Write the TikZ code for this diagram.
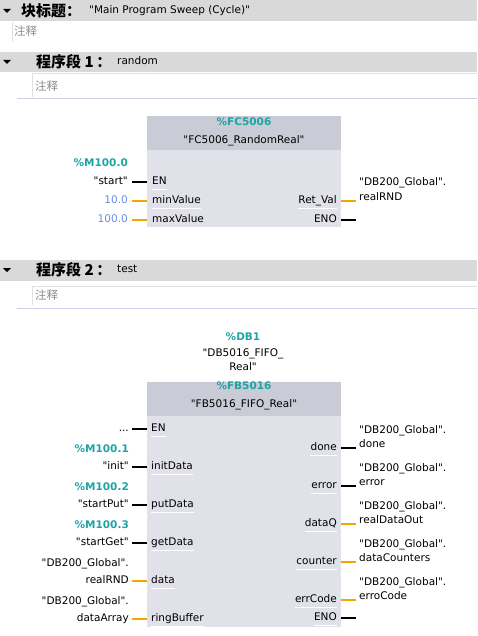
\documentclass[tikz,border=0pt]{standalone}
\usepackage{fontspec}
\setmainfont{DejaVu Sans}
\newfontfamily\cjk{Noto Sans CJK SC}
\usetikzlibrary{positioning}

\definecolor{barGray}{HTML}{D9D9D9}
\definecolor{boxHead}{HTML}{C9CBD6}
\definecolor{boxBody}{HTML}{E1E2E9}
\definecolor{tagTeal}{HTML}{1FA3A3}
\definecolor{constBlue}{HTML}{6A8BE3}
\definecolor{wireOrange}{HTML}{F5A400}
\definecolor{sepPurple}{HTML}{D2CEEA}
\definecolor{cmtGray}{HTML}{8C8C8C}

\newcommand{\qt}{\textquotedbl}

\tikzset{
  lbl/.style={font=\fontsize{10.5}{13}\selectfont, inner sep=0pt, text height=8pt, text depth=2.5pt},
  tag/.style={lbl, font=\fontsize{10.5}{13}\selectfont\bfseries, text=tagTeal},
  const/.style={lbl, text=constBlue},
  title/.style={inner sep=0pt, font=\fontsize{15}{17}\selectfont\bfseries},
  cmt/.style={inner sep=0pt, font=\fontsize{11.5}{13}\selectfont\cjk, text=cmtGray},
  cmtLine/.style={draw=black!12, line width=0.8pt},
  sepLine/.style={draw=sepPurple, line width=1pt},
  uline/.style={append after command={([yshift=-1.5pt]\tikzlastnode.south west) edge[draw=white, line width=0.8pt] ([yshift=-1.5pt]\tikzlastnode.south east)}},
  pinL/.style={lbl, anchor=west, uline},
  pinR/.style={lbl, anchor=east, uline},
  fbBody/.style={fill=boxBody, inner sep=0pt, anchor=north west},
  fbHead/.style={fill=boxHead, inner sep=0pt, anchor=north west},
  wireK/.style={black, line width=1.5pt},
  wireO/.style={wireOrange, line width=1.5pt}
}

\begin{document}
\begin{tikzpicture}[x=1pt,y=-1pt]
    \useasboundingbox (0,0) rectangle (477,636);
    % Block title
    \fill[barGray] (0,0) rectangle (477,21);
    \fill (3,9) -- (11,9) -- (7,13) -- cycle;
    \node[title, anchor=west] (blkTitle) at (21,11) {\cjk 块标题：};
    \node[lbl, anchor=west] (blkName) at (89,11) {\qt Main Program Sweep (Cycle)\qt};
    \draw[cmtLine] (12,22) -- (12,42);
    \node[cmt, anchor=west] (blkCmt) at (14,31) {注释};

    % Network 1
    \fill[barGray] (0,52) rectangle (477,72);
    \fill (3,60) -- (11,60) -- (7,64) -- cycle;
    \node[title, anchor=west] (nw1Title) at (36,62) {\cjk 程序段 1\,：};
    \node[lbl, anchor=west] (nw1Name) at (117,62) {random};
    \draw[cmtLine] (32,97) -- (32,73) -- (477,73);
    \node[cmt, anchor=west] (nw1Cmt) at (35,86) {注释};
    \draw[sepLine] (17,99) -- (477,99);

    % FC5006 box
    \node[fbBody, minimum width=194, minimum height=111] (fc) at (147,116) {};
    \node[fbHead, minimum width=194, minimum height=34] (fcHead) at (fc.north west) {};
    \node[tag] (fcNum) at (244,123) {\%FC5006};
    \node[lbl] (fcName) at (244,141) {\qt FC5006\_RandomReal\qt};
    \node[pinL] (fcEN) at (152,182) {EN};
    \node[pinL] (fcMin) at (152,201) {minValue};
    \node[pinL] (fcMax) at (152,220) {maxValue};
    \node[pinR] (fcRet) at (337,201) {Ret\_Val};
    \node[pinR] (fcENO) at (337,220) {ENO};
    % inputs
    \node[tag, anchor=east] (inStartTag) at (128,164) {\%M100.0};
    \node[lbl, anchor=east] (inStart) at (128,182) {\qt start\qt};
    \node[const, anchor=east] (inMin) at (128,201) {10.0};
    \node[const, anchor=east] (inMax) at (128,220) {100.0};
    \coordinate (fcInEN) at (132,182);
    \coordinate (fcInMin) at (132,201);
    \coordinate (fcInMax) at (132,220);
    \draw[wireK] (fcInEN) -- (fcInEN -| fc.west);
    \draw[wireO] (fcInMin) -- (fcInMin -| fc.west);
    \draw[wireO] (fcInMax) -- (fcInMax -| fc.west);
    % outputs
    \node[lbl, anchor=west] (outRnd1) at (359,183) {\qt DB200\_Global\qt.};
    \node[lbl, anchor=west] (outRnd2) at (359,198) {realRND};
    \coordinate (fcOutRet) at (356,201);
    \coordinate (fcOutENO) at (356,220);
    \draw[wireO] (fcOutRet -| fc.east) -- (fcOutRet);
    \draw[wireK] (fcOutENO -| fc.east) -- (fcOutENO);

    % Network 2
    \fill[barGray] (0,260) rectangle (477,281);
    \fill (3,268) -- (11,268) -- (7,272) -- cycle;
    \node[title, anchor=west] (nw2Title) at (36,270) {\cjk 程序段 2\,：};
    \node[lbl, anchor=west] (nw2Name) at (117,270) {test};
    \draw[cmtLine] (32,305) -- (32,286) -- (477,286);
    \node[cmt, anchor=west] (nw2Cmt) at (35,295) {注释};
    \draw[sepLine] (17,308) -- (477,308);

    % FB5016 box with instance DB
    \node[tag] (dbNum) at (243,338) {\%DB1};
    \node[lbl] (dbName1) at (243,354) {\qt DB5016\_FIFO\_};
    \node[lbl] (dbName2) at (243,368) {Real\qt};
    \node[fbBody, minimum width=194, minimum height=245] (fb) at (147,382) {};
    \node[fbHead, minimum width=194, minimum height=34] (fbHead) at (fb.north west) {};
    \node[tag] (fbNum) at (244,387) {\%FB5016};
    \node[lbl] (fbName) at (244,405) {\qt FB5016\_FIFO\_Real\qt};
    \node[pinL] (fbEN) at (151,429) {EN};
    \node[pinL] (fbInit) at (151,467) {initData};
    \node[pinL] (fbPut) at (151,505) {putData};
    \node[pinL] (fbGet) at (151,543) {getData};
    \node[pinL] (fbData) at (151,581) {data};
    \node[pinL] (fbRing) at (151,619) {ringBuffer};
    \node[pinR] (fbDone) at (337,448) {done};
    \node[pinR] (fbError) at (337,486) {error};
    \node[pinR] (fbDataQ) at (337,524) {dataQ};
    \node[pinR] (fbCounter) at (337,562) {counter};
    \node[pinR] (fbErrCode) at (337,600) {errCode};
    \node[pinR] (fbENO) at (337,618) {ENO};
    % inputs
    \node[lbl, anchor=east] (inDots) at (129,429) {...};
    \node[tag, anchor=east] (inInitTag) at (129,450) {\%M100.1};
    \node[lbl, anchor=east] (inInit) at (129,467) {\qt init\qt};
    \node[tag, anchor=east] (inPutTag) at (129,488) {\%M100.2};
    \node[lbl, anchor=east] (inPut) at (129,505) {\qt startPut\qt};
    \node[tag, anchor=east] (inGetTag) at (129,526) {\%M100.3};
    \node[lbl, anchor=east] (inGet) at (129,543) {\qt startGet\qt};
    \node[lbl, anchor=east] (inData1) at (129,564) {\qt DB200\_Global\qt.};
    \node[lbl, anchor=east] (inData2) at (129,581) {realRND};
    \node[lbl, anchor=east] (inRing1) at (129,602) {\qt DB200\_Global\qt.};
    \node[lbl, anchor=east] (inRing2) at (129,619) {dataArray};
    \coordinate (fbInEN) at (132,429);
    \coordinate (fbInInit) at (132,467);
    \coordinate (fbInPut) at (132,505);
    \coordinate (fbInGet) at (132,543);
    \coordinate (fbInData) at (132,581);
    \coordinate (fbInRing) at (132,619);
    \draw[wireK] (fbInEN) -- (fbInEN -| fb.west);
    \draw[wireK] (fbInInit) -- (fbInInit -| fb.west);
    \draw[wireK] (fbInPut) -- (fbInPut -| fb.west);
    \draw[wireK] (fbInGet) -- (fbInGet -| fb.west);
    \draw[wireO] (fbInData) -- (fbInData -| fb.west);
    \draw[wireO] (fbInRing) -- (fbInRing -| fb.west);
    % outputs
    \node[lbl, anchor=west] (outDone1) at (359,431) {\qt DB200\_Global\qt.};
    \node[lbl, anchor=west] (outDone2) at (359,445) {done};
    \node[lbl, anchor=west] (outErr1) at (359,469) {\qt DB200\_Global\qt.};
    \node[lbl, anchor=west] (outErr2) at (359,483) {error};
    \node[lbl, anchor=west] (outQ1) at (359,507) {\qt DB200\_Global\qt.};
    \node[lbl, anchor=west] (outQ2) at (359,521) {realDataOut};
    \node[lbl, anchor=west] (outCnt1) at (359,545) {\qt DB200\_Global\qt.};
    \node[lbl, anchor=west] (outCnt2) at (359,559) {dataCounters};
    \node[lbl, anchor=west] (outCode1) at (359,583) {\qt DB200\_Global\qt.};
    \node[lbl, anchor=west] (outCode2) at (359,597) {erroCode};
    \coordinate (fbOutDone) at (356,448);
    \coordinate (fbOutErr) at (356,486);
    \coordinate (fbOutQ) at (356,524);
    \coordinate (fbOutCnt) at (356,562);
    \coordinate (fbOutCode) at (356,600);
    \coordinate (fbOutENO) at (356,618);
    \draw[wireK] (fbOutDone -| fb.east) -- (fbOutDone);
    \draw[wireK] (fbOutErr -| fb.east) -- (fbOutErr);
    \draw[wireO] (fbOutQ -| fb.east) -- (fbOutQ);
    \draw[wireO] (fbOutCnt -| fb.east) -- (fbOutCnt);
    \draw[wireO] (fbOutCode -| fb.east) -- (fbOutCode);
    \draw[wireK] (fbOutENO -| fb.east) -- (fbOutENO);
\end{tikzpicture}
\end{document}
